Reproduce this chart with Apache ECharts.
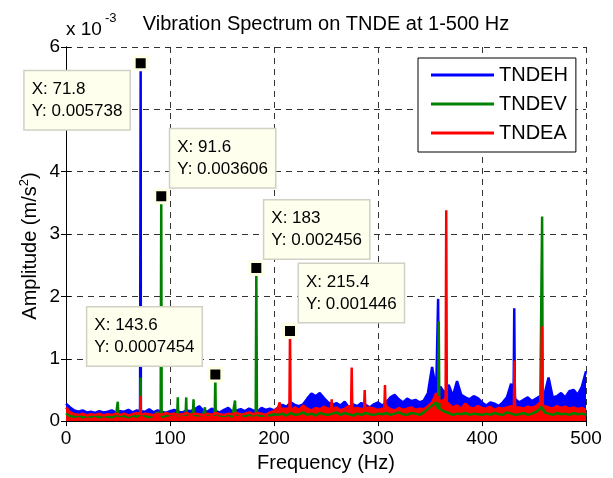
<!DOCTYPE html>
<html><head><meta charset="utf-8">
<script src="https://cdn.jsdelivr.net/npm/echarts/dist/echarts.min.js"></script>
<style>html,body{margin:0;padding:0;background:#fff}#c{width:613px;height:478px}</style>
</head><body><div id="c"></div>
<script>
// ---------- DATA (amplitudes in units of 1e-3 m/s^2) ----------
const HZ_STEP = 4; // noise floor samples every 4 Hz, 0..500
const noiseH = [
0.28,0.22,0.17,0.15,0.17,0.14,0.15,0.13,0.16,0.14,0.15,0.17,0.14,
0.16,0.15,0.18,0.14,0.17,0.16,0.15,0.19,0.14,0.17,0.15,0.13,0.16,
0.18,0.15,0.14,0.17,0.16,0.19,0.24,0.17,0.15,0.2,0.16,0.14,
0.18,0.21,0.15,0.17,0.19,0.16,0.2,0.17,0.15,0.21,0.18,0.2,0.17,
0.22,0.26,0.23,0.3,0.26,0.24,0.27,0.36,0.44,0.4,0.45,0.37,
0.3,0.26,0.29,0.25,0.31,0.22,0.27,0.24,0.29,0.26,0.22,0.27,0.3,
0.25,0.3,0.38,0.42,0.35,0.3,0.36,0.32,0.34,0.3,0.33,0.45,
0.87,0.5,0.55,0.45,0.58,0.4,0.64,0.42,0.38,0.35,0.4,0.37,0.3,
0.25,0.3,0.28,0.24,0.3,0.38,0.6,0.35,0.3,0.34,0.38,0.32,
0.36,0.4,0.42,0.7,0.38,0.4,0.45,0.38,0.48,0.5,0.42,0.55,0.8
];
const noiseV = [
0.12,0.08,0.07,0.09,0.06,0.08,0.07,0.09,0.06,0.08,0.07,0.06,0.09,
0.07,0.08,0.06,0.09,0.07,0.12,0.08,0.06,0.09,0.14,0.07,0.08,0.1,
0.12,0.09,0.11,0.1,0.12,0.08,0.09,0.11,0.08,0.1,0.12,0.09,
0.08,0.1,0.07,0.09,0.11,0.08,0.1,0.09,0.12,0.08,0.1,0.09,0.11,
0.1,0.12,0.09,0.13,0.1,0.11,0.14,0.1,0.12,0.09,0.13,0.11,
0.1,0.12,0.14,0.1,0.13,0.11,0.09,0.12,0.1,0.13,0.11,0.1,0.12,
0.11,0.13,0.1,0.12,0.14,0.11,0.1,0.13,0.12,0.1,0.14,0.2,
0.25,0.3,0.2,0.15,0.13,0.1,0.12,0.11,0.13,0.1,0.12,0.11,0.1,
0.12,0.1,0.13,0.11,0.1,0.14,0.12,0.1,0.11,0.13,0.1,0.12,
0.15,0.2,0.14,0.12,0.1,0.13,0.11,0.12,0.1,0.13,0.11,0.12,0.1
];
const noiseA = [
0.22,0.14,0.11,0.1,0.12,0.09,0.11,0.1,0.12,0.09,0.11,0.1,0.12,
0.1,0.12,0.09,0.11,0.13,0.1,0.12,0.11,0.09,0.12,0.1,0.13,0.11,
0.12,0.1,0.11,0.13,0.1,0.12,0.11,0.09,0.12,0.1,0.13,0.11,
0.1,0.12,0.11,0.13,0.1,0.12,0.14,0.11,0.13,0.12,0.1,0.14,0.16,
0.22,0.18,0.2,0.17,0.22,0.18,0.25,0.2,0.17,0.21,0.19,0.23,
0.2,0.18,0.22,0.17,0.2,0.24,0.18,0.21,0.19,0.17,0.22,0.2,0.18,
0.2,0.24,0.19,0.17,0.21,0.18,0.2,0.22,0.18,0.2,0.19,0.24,
0.3,0.45,0.28,0.35,0.3,0.22,0.25,0.2,0.28,0.22,0.2,0.24,0.21,
0.2,0.23,0.18,0.21,0.2,0.22,0.24,0.19,0.22,0.2,0.23,0.21,
0.24,0.3,0.26,0.22,0.2,0.24,0.21,0.23,0.2,0.22,0.19,0.21,0.18
];
// spectral peaks: [frequency Hz, peak amplitude, floor amplitude beside the peak]
const peaksH = [[71.8,5.738,0.16],[357.8,1.96,0.5],[431,1.81,0.4]];
const peaksV = [[49.8,0.31,0.08],[71.8,0.7,0.1],[91.6,3.606,0.1],[107.5,0.38,0.1],[115.6,0.38,0.1],[122.6,0.35,0.1],[133.6,0.22,0.1],
                [143.6,0.7454,0.1],[162.5,0.33,0.1],[183,2.456,0.1],[358.4,1.6,0.2],[457.8,3.28,0.2]];
const peaksA = [[71.8,0.4,0.12],[205.5,0.3,0.2],[215.4,1.446,0.2],[255.5,0.35,0.2],[274.7,0.86,0.2],[287.2,0.5,0.2],[306.7,0.58,0.2],
                [358.6,0.4,0.3],[365.6,3.38,0.3],[431.2,0.97,0.22],[457.6,1.52,0.25]];
const seriesNames = ['TNDEH','TNDEV','TNDEA'];
const seriesColors = ['#0000ff','#008000','#ff0000'];
const tipX = [71.8, 91.6, 183, 215.4, 143.6];
const tipY = [0.005738, 0.003606, 0.002456, 0.001446, 0.0007454];
const titleText = 'Vibration Spectrum on TNDE at 1-500 Hz';
const xName = 'Frequency (Hz)';

// ---------- LAYOUT ----------
const FONT = 'Liberation Sans, Arial, Helvetica, sans-serif';
const tipPos = [[-108,16],[17,-59],[16,-59.5],[17,-59],[-120,-59]];
const PEAK_HALF = 0.6; // Hz half-width of a spike base

function build(noise, peaks){
  const pts = noise.map((v,i)=>[i*HZ_STEP, v]);
  peaks.forEach(p=>{ pts.push([p[0]-PEAK_HALF, p[2]], [p[0], p[1]], [p[0]+PEAK_HALF, p[2]]); });
  pts.sort((a,b)=>a[0]-b[0]);
  return pts;
}
const allNoise=[noiseH,noiseV,noiseA], allPeaks=[peaksH,peaksV,peaksA];

const lineSeries = seriesNames.map((n,i)=>({
  type:'line', name:n, data: build(allNoise[i], allPeaks[i]),
  showSymbol:false, symbol:'none', silent:true,
  lineStyle:{color:seriesColors[i], width:2.5},
  itemStyle:{color:seriesColors[i]},
  areaStyle:{color:seriesColors[i], opacity:1}
}));

const tipSeries = {
  type:'scatter', name:'tips', z:10, silent:true,
  symbol:'rect', symbolSize:13,
  itemStyle:{color:'#000', borderColor:'#ffffe6', borderWidth:3, opacity:1},
  data: tipX.map((x,i)=>({value:[x, tipY[i]*1000], label:{position:tipPos[i]}})),
  label:{show:true, formatter:p=>'X: '+tipX[p.dataIndex]+'\nY: '+tipY[p.dataIndex],
    fontSize:17, lineHeight:22, color:'#000', fontFamily:FONT,
    backgroundColor:'#ffffee', borderColor:'#d0d0c4', borderWidth:1.5, padding:[7,7,7,7]}
};

const axisCommon = {
  axisLine:{show:true, lineStyle:{color:'#000', width:1}},
  axisTick:{show:true, inside:true, length:5, lineStyle:{color:'#000'}},
};
const chart = echarts.init(document.getElementById('c'), null, {renderer:'canvas'});
chart.setOption({
  animation:false,
  backgroundColor:'#fff',
  grid:{left:66, right:27, top:47, bottom:56, containLabel:false},
  legend:{data:seriesNames, orient:'vertical', left:418, top:58, icon:'rect',
    itemWidth:63, itemHeight:3, itemGap:9, selectedMode:false,
    padding:[7,8,9,13], backgroundColor:'#fff', borderColor:'#000', borderWidth:1,
    textStyle:{fontSize:20, lineHeight:20, color:'#000', fontFamily:FONT}},
  xAxis:[
    Object.assign({type:'value', min:0, max:500, interval:100, position:'bottom',
      name:xName, nameLocation:'middle', nameGap:28,
      nameTextStyle:{fontSize:20, color:'#000', fontFamily:FONT},
      axisLabel:{fontSize:19, color:'#000', margin:8, fontFamily:FONT},
      splitLine:{show:true, lineStyle:{color:'#333', width:1, type:[6,5]}}}, axisCommon),
    Object.assign({type:'value', min:0, max:500, interval:100, position:'top',
      axisLabel:{show:false}, splitLine:{show:false}}, axisCommon)
  ],
  yAxis:[
    Object.assign({type:'value', min:0, max:6, interval:1, position:'left',
      axisLabel:{fontSize:19, color:'#000', margin:6, fontFamily:FONT},
      splitLine:{show:true, lineStyle:{color:'#333', width:1, type:[6,5]}}}, axisCommon),
    Object.assign({type:'value', min:0, max:6, interval:1, position:'right',
      axisLabel:{show:false}, splitLine:{show:false}}, axisCommon)
  ],
  graphic:[
    {type:'text', x:326, y:14, silent:true, style:{text:titleText, fontSize:20, fontFamily:FONT, fill:'#000',
      align:'center', textAlign:'center', verticalAlign:'top', textVerticalAlign:'top'}},
    {type:'text', x:66, y:20, silent:true, style:{text:'x 10', fontSize:19, fontFamily:FONT, fill:'#000',
      align:'left', textAlign:'left', verticalAlign:'top', textVerticalAlign:'top'}},
    {type:'text', x:105, y:12, silent:true, style:{text:'-3', fontSize:13, fontFamily:FONT, fill:'#000',
      align:'left', textAlign:'left', verticalAlign:'top', textVerticalAlign:'top'}},
    {type:'text', x:30, y:246, rotation:Math.PI/2, silent:true, style:{
      text:'{a|Amplitude (m/s}{b|2}{a|)}', fill:'#000',
      align:'center', textAlign:'center', verticalAlign:'middle', textVerticalAlign:'middle',
      rich:{a:{fontSize:20, lineHeight:24, fontFamily:FONT, fill:'#000', color:'#000'},
            b:{fontSize:13, lineHeight:14, verticalAlign:'top', fontFamily:FONT, fill:'#000', color:'#000'}}}}
  ],
  series: lineSeries.concat([tipSeries])
});
</script></body></html>
